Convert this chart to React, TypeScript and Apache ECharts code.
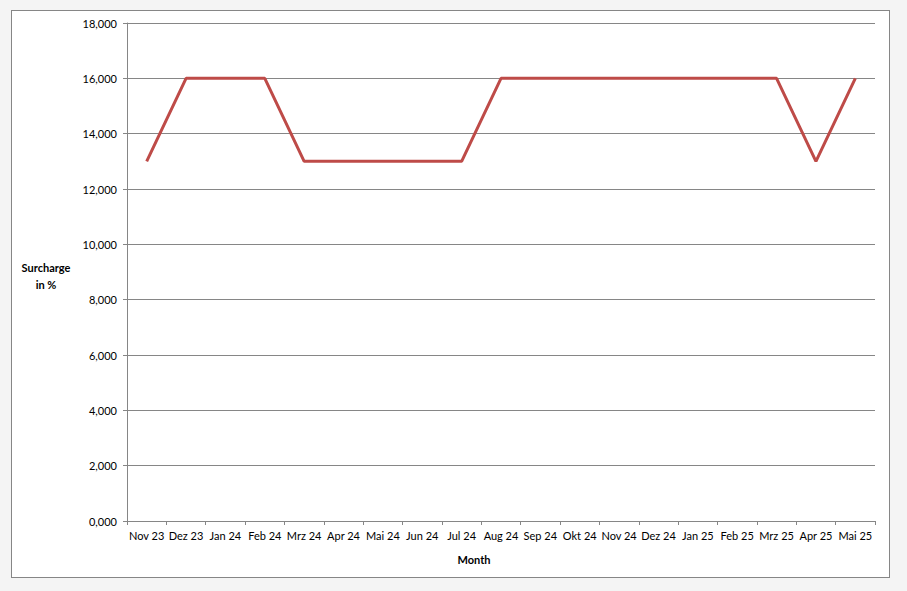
import React, { useEffect, useRef } from "react";
import * as echarts from "echarts";

const categories = [
  "Nov 23", "Dez 23", "Jan 24", "Feb 24", "Mrz 24", "Apr 24", "Mai 24", "Jun 24", "Jul 24",
  "Aug 24", "Sep 24", "Okt 24", "Nov 24", "Dez 24", "Jan 25", "Feb 25", "Mrz 25", "Apr 25", "Mai 25",
];
const surcharge = [13, 16, 16, 16, 13, 13, 13, 13, 13, 16, 16, 16, 16, 16, 16, 16, 16, 13, 16];
const yAxisTitle = "Surcharge\nin %";
const xAxisTitle = "Month";

const FONT = "Lato, 'Open Sans', sans-serif";

export default function App() {
  const ref = useRef<HTMLDivElement>(null);
  useEffect(() => {
    if (!ref.current) return;
    const chart = echarts.init(ref.current, null, { renderer: "svg" });
    chart.setOption({
      animation: false,
      grid: { left: 127, right: 32, top: 23, bottom: 70 },
      xAxis: {
        type: "category",
        data: categories,
        boundaryGap: true,
        axisLine: { lineStyle: { color: "#868686", width: 1 } },
        axisTick: { show: true, length: 4, lineStyle: { color: "#868686" } },
        axisLabel: { color: "#000", fontSize: 11, fontFamily: FONT, margin: 9, interval: 0 },
        splitLine: { show: false },
      },
      yAxis: {
        type: "value",
        min: 0,
        max: 18,
        interval: 2,
        axisLine: { show: true, lineStyle: { color: "#868686", width: 1 } },
        axisTick: { show: true, length: 4, lineStyle: { color: "#868686" } },
        axisLabel: {
          color: "#000",
          fontSize: 11,
          fontFamily: FONT,
          margin: 10,
          formatter: (v: number) => v.toFixed(3).replace(".", ","),
        },
        splitLine: { show: true, lineStyle: { color: "#868686", width: 1 } },
      },
      graphic: [
        {
          type: "text",
          x: 46,
          y: 259,
          style: {
            text: yAxisTitle,
            font: `bold 11px ${FONT}`,
            fill: "#000",
            align: "center",
            verticalAlign: "top",
            lineHeight: 17,
          },
        },
        {
          type: "text",
          x: 474,
          y: 554,
          style: {
            text: xAxisTitle,
            font: `bold 11px ${FONT}`,
            fill: "#000",
            align: "center",
            verticalAlign: "top",
          },
        },
      ],
      series: [
        {
          type: "line",
          data: surcharge,
          symbol: "none",
          lineStyle: { color: "#be4b48", width: 3 },
          itemStyle: { color: "#be4b48" },
        },
      ],
    });
    return () => chart.dispose();
  }, []);
  return (
    <div style={{ position: "absolute", left: 0, top: 0, width: 907, height: 591, background: "#f4f4f4" }}>
      <div
        style={{
          position: "absolute",
          left: 11,
          top: 10,
          width: 877,
          height: 566,
          background: "#fff",
          border: "1px solid #868686",
        }}
      />
      <div ref={ref} style={{ position: "absolute", left: 0, top: 0, width: 907, height: 591 }} />
    </div>
  );
}
